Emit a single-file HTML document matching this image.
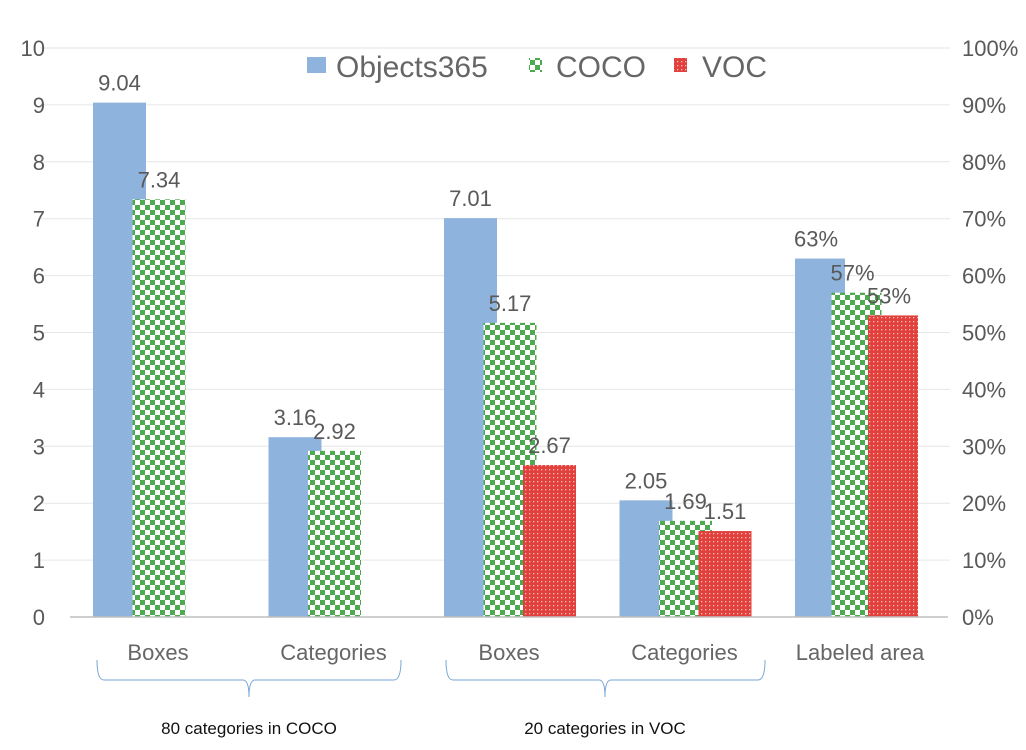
<!DOCTYPE html>
<html><head><meta charset="utf-8"><style>
body{margin:0;background:#fff;}
svg{display:block;font-family:"Liberation Sans",sans-serif;}
</style></head><body>
<svg id="chart" width="1026" height="750" viewBox="0 0 1026 750" xmlns="http://www.w3.org/2000/svg">
<defs>
<pattern id="chk" width="10" height="10" patternUnits="userSpaceOnUse">
<rect width="10" height="10" fill="#fff"/><rect width="5" height="5" fill="#4eaa4e"/><rect x="5" y="5" width="5" height="5" fill="#4eaa4e"/>
</pattern>
<pattern id="dot" width="4" height="4" patternUnits="userSpaceOnUse">
<rect width="4" height="4" fill="#e2403c"/><rect x="1" y="1" width="1.3" height="1.3" fill="#f6c0bc"/>
</pattern>
</defs>
<g id="grid"></g><g id="bars"></g><g id="labels"></g>
<line x1="70" y1="617" x2="948" y2="617" stroke="#bfbfbf" stroke-width="1.5"/>
<g>
<rect x="307" y="57" width="19" height="16" fill="#8eb4dd"/>
<text x="336" y="77" font-size="30" fill="#666">Objects365</text>
<rect x="529" y="58" width="13" height="14" fill="url(#chk)"/>
<text x="556" y="77" font-size="30" fill="#666">COCO</text>
<rect x="674" y="58" width="13" height="14" fill="url(#dot)"/>
<text x="702" y="77" font-size="30" fill="#666">VOC</text>
</g>
<path d="M97 660 Q97 680 104 680 L243 680 Q249 680 249 697 Q249 680 255 680 L394 680 Q401 680 401 660" fill="none" stroke="#7aa6d8" stroke-width="1"/>
<path d="M446 660 Q446 680 453 680 L599 680 Q605 680 605 697 Q605 680 611 680 L758 680 Q765 680 765 660" fill="none" stroke="#7aa6d8" stroke-width="1"/>
<text x="249" y="734" font-size="17" fill="#111" text-anchor="middle">80 categories in COCO</text>
<text x="605" y="734" font-size="17" fill="#111" text-anchor="middle">20 categories in VOC</text>
</svg>
<script>
const categories=["Boxes","Categories","Boxes","Categories","Labeled area"];
const objects365=[9.04,3.16,7.01,2.05,6.3];
const coco=[7.34,2.92,5.17,1.69,5.7];
const voc=[null,null,2.67,1.51,5.3];
const valueLabels365=["9.04","3.16","7.01","2.05","63%"];
const valueLabelsCoco=["7.34","2.92","5.17","1.69","57%"];
const valueLabelsVoc=[null,null,"2.67","1.51","53%"];
const leftTicks=[0,1,2,3,4,5,6,7,8,9,10];
const rightTicks=["0%","10%","20%","30%","40%","50%","60%","70%","80%","90%","100%"];

const NS="http://www.w3.org/2000/svg";
const y=v=>617-v*56.9;
function mk(tag,attrs,parent){const e=document.createElementNS(NS,tag);for(const k in attrs)e.setAttribute(k,attrs[k]);parent.appendChild(e);return e;}
const grid=document.getElementById('grid'),bars=document.getElementById('bars'),labels=document.getElementById('labels');
leftTicks.forEach((t,i)=>{
  if(t>0){const l=mk('line',{x1:40,x2:950,y1:y(t),y2:y(t),stroke:'#e6e6e6','stroke-width':1},grid);
  
  }
  const a=mk('text',{x:45,y:y(t)+8,'font-size':22,fill:'#595959','text-anchor':'end'},labels);a.textContent=t;
  
  
  const b=mk('text',{x:962,y:y(t)+8,'font-size':22,fill:'#595959'},labels);b.textContent=rightTicks[i];
  
  
});
const series=[[objects365,'#8eb4dd',valueLabels365,'objects365'],[coco,'url(#chk)',valueLabelsCoco,'coco'],[voc,'url(#dot)',valueLabelsVoc,'voc']];
categories.forEach((c,i)=>{
  const slot=70+i*175.5;
  const last=i===4;
  const w=last?50:53, step=last?36.5:39.5;
  series.forEach((s,j)=>{
    const v=s[0][i]; if(v==null)return;
    const x=slot+23+j*step;
    const r=mk('rect',{x:x,y:y(v),width:w,height:617-y(v),fill:s[1]},bars);
    
    
    const t=mk('text',{x:x+w/2-(last?4:0),y:y(v)-12,'font-size':22,fill:'#595959','text-anchor':'middle'},labels);
    t.textContent=s[2][i];
    
    
  });
  const ct=mk('text',{x:slot+88,y:660,'font-size':22,fill:'#666','text-anchor':'middle'},labels);
  ct.textContent=c;
  
  
});
</script>
</body></html>
